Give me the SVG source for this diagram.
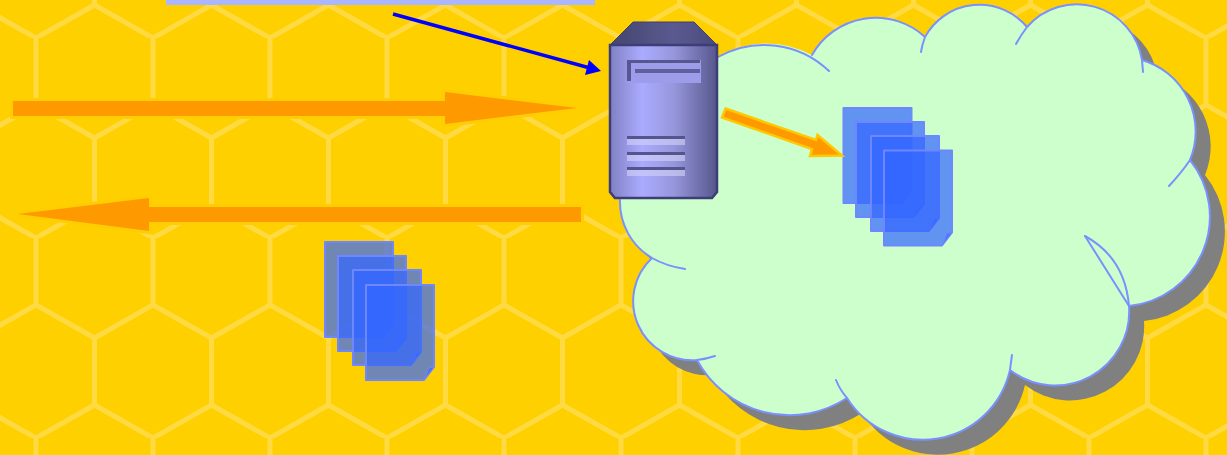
<svg xmlns="http://www.w3.org/2000/svg" width="1227" height="455" viewBox="0 0 1227 455">
<defs>
<style>
.hex{fill:none;stroke:#FFDA42;stroke-width:5}
.flow{fill:#FF9900;stroke:#FFCE00;stroke-width:6;paint-order:stroke}
.edge{fill:none;stroke:#7B90FF;stroke-width:2;stroke-linecap:round}
.doc{fill:#3366FF;fill-opacity:.7;stroke:#6E86FF;stroke-width:2;stroke-linejoin:round}
.vent{fill:#D4D4F8;fill-opacity:.6}
.ventd{fill:#54548E}
</style>
<pattern id="honey" patternUnits="userSpaceOnUse" x="36" y="38" width="117" height="200">
<path class="hex" d="M0,-40V67L58.500,100V167L0,200V240M58.500,100L117,67M58.500,167L117,200M117,-40V67M117,200V240"/>
</pattern>
<filter id="soft" x="-5%" y="-5%" width="110%" height="110%"><feGaussianBlur stdDeviation="0.6"/></filter>
<linearGradient id="body" x1="0" x2="1" y1="0" y2="0">
<stop offset="0" stop-color="#8080C4"/><stop offset=".3" stop-color="#ABABFF"/><stop offset=".6" stop-color="#9696DC"/><stop offset="1" stop-color="#56568C"/>
</linearGradient>
<linearGradient id="top" x1="0" x2="1" y1="0" y2="0">
<stop offset="0" stop-color="#45456F"/><stop offset=".6" stop-color="#5A5A90"/><stop offset="1" stop-color="#4A4A7E"/>
</linearGradient>
<path id="cloud" d="M718,57A94,94 0 0 1 812,55A73,73 0 0 1 925,37A62,62 0 0 1 1027,27A66,66 0 0 1 1142,60A74.500,74.500 0 0 1 1190,160A90,90 0 0 1 1129,306A74,74 0 0 1 1010,370A89.500,89.500 0 0 1 847,398A105,105 0 0 1 697,360A59,59 0 0 1 652,258A65,65 0 0 1 620,200V100Z"/>
<g id="page">
<path class="doc" d="M0,0H68V82L58,95H0Z"/>
<path d="M68,82L63,83L58,95Z" fill="#3366FF" fill-opacity=".6" stroke="#6E86FF" stroke-width="1"/>
</g>
</defs>
<rect width="1227" height="455" fill="#FFD000"/>
<rect width="1227" height="455" fill="url(#honey)"/>
<rect x="166" y="0" width="429" height="5" fill="#AAB6FF"/>
<g id="cloud-node">
<use href="#cloud" x="15" y="15" fill="#808080"/>
<use href="#cloud" fill="#CCFFCC"/>
<path class="edge" d="M718,57A94,94 0 0 1 829,71M812,55A73,73 0 0 1 925,37Q922,45 921,52M925,37A62,62 0 0 1 1027,27M1016,44Q1021,35 1027,27A66,66 0 0 1 1142,60L1143,72M1142,60A74.500,74.500 0 0 1 1190,160Q1182,172 1169,186M1190,160A90,90 0 0 1 1129,306M1085,236Q1125,258 1129,306A74,74 0 0 1 1010,370Q1011,362 1012,355M1010,370A89.500,89.500 0 0 1 847,398Q840,390 836,380M847,398A105,105 0 0 1 697,360Q706,359 715,356M697,360A59,59 0 0 1 652,258Q666,266 685,269M652,258A65,65 0 0 1 620,200"/>
<path class="edge" stroke-width="1.500" d="M1085,236L1129,306"/>
</g>
<g id="server">
<g filter="url(#soft)">
<path d="M610,45L633,22H694L717,45Z" fill="url(#top)" stroke="#3F3F70"/>
<path d="M610,45H717V192L712,198H615L610,192Z" fill="url(#body)" stroke="#3C3C78" stroke-width="2.500"/>
<rect x="627" y="60" width="74" height="23" fill="#9C9CEA"/>
<path d="M627,60H700V63H631V81H627Z" fill="#565690"/>
<rect x="635" y="69" width="65" height="4" fill="#5E5E9E"/>
<rect x="627" y="136" width="58" height="3" class="ventd"/><rect x="627" y="139" width="58" height="6" class="vent"/>
<rect x="627" y="152" width="58" height="3" class="ventd"/><rect x="627" y="155" width="58" height="6" class="vent"/>
<rect x="627" y="167" width="58" height="3" class="ventd"/><rect x="627" y="170" width="58" height="6" class="vent"/>
</g>
</g>
<g id="docs-cloud">
<use href="#page" x="843.500" y="108"/><use href="#page" x="856" y="122"/><use href="#page" x="871" y="136"/><use href="#page" x="884" y="150.500"/>
</g>
<g id="docs-left">
<use href="#page" x="325" y="242"/><use href="#page" x="338" y="256"/><use href="#page" x="353" y="270"/><use href="#page" x="366" y="285"/>
</g>
<g id="connectors">
<path class="flow" d="M13,101H445V92L577,108L445,124V116H13Z"/>
<path class="flow" d="M581,207H149V198L18,214L149,231V222H581Z"/>
<path d="M725.500,108.500L816,140L817.500,135L842,155.500L810,156L812,149L722,117.500Z" fill="#FF9900" stroke="#FFC800" stroke-width="2.500"/>
<path d="M393,14L590,68" fill="none" stroke="#0000FF" stroke-width="3.500"/>
<path d="M601,71L585,75L589,60Z" fill="#0000FF"/>
</g>
</svg>
